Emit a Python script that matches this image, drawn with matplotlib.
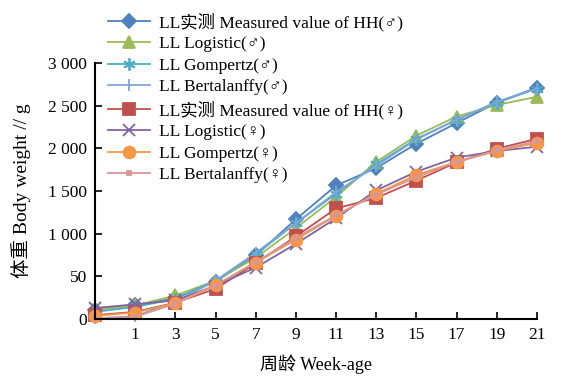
import matplotlib
matplotlib.use("Agg")
import matplotlib.pyplot as plt
from matplotlib.ticker import FixedLocator, FixedFormatter

# 周龄 (0 周 + 1,3,...,21 周)
weeks = ["", "1", "3", "5", "7", "9", "11", "13", "15", "17", "19", "21"]

# 公鸡 ♂
male_measured = [110, 160, 246, 438, 746, 1169, 1565, 1769, 2054, 2296, 2535, 2712]
male_logistic = [112, 160, 277, 450, 719, 1065, 1431, 1842, 2150, 2373, 2508, 2604]
male_gompertz = [85, 142, 238, 450, 758, 1123, 1469, 1815, 2112, 2335, 2535, 2700]
male_bertalanffy = [8, 35, 200, 450, 777, 1123, 1488, 1796, 2104, 2335, 2546, 2700]

# 母鸡 ♀
female_measured = [46, 85, 192, 354, 654, 969, 1296, 1419, 1623, 1835, 1996, 2112]
female_logistic = [130, 173, 219, 392, 604, 881, 1181, 1508, 1727, 1892, 1969, 2019]
female_gompertz = [38, 77, 188, 400, 662, 931, 1212, 1469, 1688, 1842, 1969, 2065]
female_bertalanffy = [8, 27, 181, 392, 669, 950, 1219, 1458, 1662, 1842, 1977, 2085]

y_ticks = [0, 500, 1000, 1500, 2000, 2500, 3000]
y_labels = ["0", "50", "1 000", "1 500", "2 000", "2 500", "3 000"]

series = [
    (male_measured, "LL实测 Measured value of HH(♂)", "#4F81BD", "D", 7.5),
    (male_logistic, "LL Logistic(♂)", "#9BBB59", "^", 8.5),
    (male_gompertz, "LL Gompertz(♂)", "#4BACC6", (6, 2, 0), 9),
    (male_bertalanffy, "LL Bertalanffy(♂)", "#7FA6D9", "|", 9),
    (female_measured, "LL实测 Measured value of HH(♀)", "#C0504D", "s", 8),
    (female_logistic, "LL Logistic(♀)", "#8064A2", "x", 8),
    (female_gompertz, "LL Gompertz(♀)", "#F79646", "o", 8.5),
    (female_bertalanffy, "LL Bertalanffy(♀)", "#D99694", "s", 3),
]

serif = ["Liberation Serif", "Noto Sans CJK SC", "DejaVu Sans"]

fig = plt.figure(figsize=(5.83, 3.84), dpi=100)
ax = fig.add_axes([0.163, 0.169, 0.758, 0.667])

x = list(range(len(weeks)))
for vals, lab, col, mk, ms in series:
    ax.plot(x, vals, color=col, marker=mk, markersize=ms, linewidth=1.3,
            markeredgewidth=1.3, label=lab, clip_on=False)

ax.set_xlim(0, len(weeks) - 1)
ax.set_ylim(0, 3000)
ax.xaxis.set_major_locator(FixedLocator(x))
ax.xaxis.set_major_formatter(FixedFormatter(weeks))
ax.yaxis.set_major_locator(FixedLocator(y_ticks))
ax.yaxis.set_major_formatter(FixedFormatter(y_labels))
ax.tick_params(direction="in", length=5, width=1.2, labelsize=12.5, pad=6)
for t in ax.get_xticklabels() + ax.get_yticklabels():
    t.set_family(serif)
for s in ["top", "right"]:
    ax.spines[s].set_visible(False)
for s in ["left", "bottom"]:
    ax.spines[s].set_linewidth(1.5)

ax.set_xlabel("周龄 Week-age", family=serif, fontsize=13, labelpad=8)
ax.set_ylabel("体重 Body weight // g", family=serif, fontsize=14, labelpad=12)

fig.legend(loc="upper left", bbox_to_anchor=(0.168, 0.995), frameon=False,
           prop={"family": serif, "size": 12.5}, handlelength=2.4,
           labelspacing=0.3, handletextpad=0.5, borderaxespad=0.2)

fig.savefig("out.png", dpi=100)
